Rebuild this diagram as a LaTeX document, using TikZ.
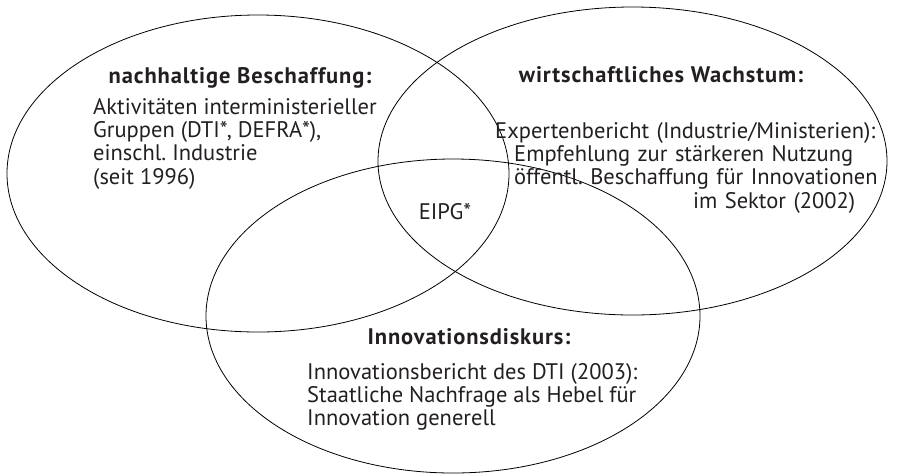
\documentclass[tikz,border=0pt]{standalone}
\usepackage{fontspec}
\setmainfont{PT Sans}
\newfontfamily\headfont{PT Sans}[LetterSpace=4]
\usepackage{tikz}
\usetikzlibrary{positioning}

\definecolor{inkgray}{HTML}{231F20}
\frenchspacing
\hyphenpenalty=10000

\begin{document}
\begin{tikzpicture}[x=1pt, y=-1pt,
ringline/.style={draw=black, line width=0.8pt},
headnode/.style={font=\headfont\fontsize{22.5}{23}\selectfont\bfseries, text=inkgray, inner sep=0pt},
bodynode/.style={font=\fontsize{22.5}{23.3}\selectfont, text=inkgray, inner sep=0pt, align=left},
]
\useasboundingbox (0,0) rectangle (899,475);

%Ellipses
\draw[ringline] (258,173.5) ellipse [x radius=251, y radius=158.5];
\draw[ringline] (632.5,161) ellipse [x radius=254.5, y radius=154];
\draw[ringline] (453,316) ellipse [x radius=247, y radius=157];

%Texts
\node[headnode]          (sustHead)                              at (240,78)  {nachhaltige Beschaffung:};
\node[bodynode, anchor=north west] (sustBody)                    at (93,98)   {Aktivitäten interministerieller\\Gruppen (DTI*, DEFRA*),\\einschl. Industrie\\(seit 1996)};
\node[headnode]          (growHead)                              at (661,75)  {wirtschaftliches Wachstum:};
\node[bodynode, anchor=north west, text width=390pt] (growBody)  at (495,122)
  {Expertenbericht (Industrie/Ministerien):\\\hspace*{19pt}Empfehlung zur stärkeren Nutzung\\\hspace*{19pt}öffentl. Beschaffung für Innovationen\\\hfill im Sektor (2002)\hspace*{30pt}};
\node[bodynode]          (eipg)                                  at (445,212) {EIPG*};
\node[headnode]          (innoHead)                              at (469,337) {Innovationsdiskurs:};
\node[bodynode, anchor=north west] (innoBody)                    at (307,363) {Innovationsbericht des DTI (2003):\\Staatliche Nachfrage als Hebel für\\Innovation generell};

\end{tikzpicture}
\end{document}
